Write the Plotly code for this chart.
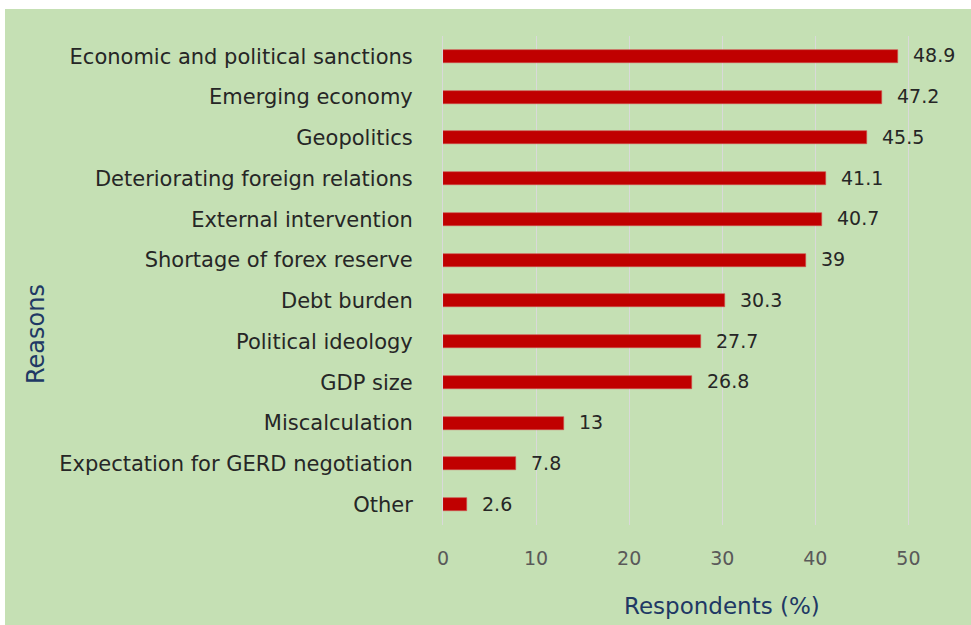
import plotly.graph_objects as go

# Survey results: reasons cited by respondents (share of respondents, %)
reasons = [
    "Economic and political sanctions",
    "Emerging economy",
    "Geopolitics",
    "Deteriorating foreign relations",
    "External intervention",
    "Shortage of forex reserve",
    "Debt burden",
    "Political ideology",
    "GDP size",
    "Miscalculation",
    "Expectation for GERD negotiation",
    "Other",
]
respondents_pct = [48.9, 47.2, 45.5, 41.1, 40.7, 39, 30.3, 27.7, 26.8, 13, 7.8, 2.6]
x_ticks = [0, 10, 20, 30, 40, 50]

W, H = 971, 625
L, R, T, B = 443, 0, 36, 100
plot_w = W - L - R
plot_h = H - T - B
px_per_unit = 9.308
x_max = plot_w / px_per_unit

GREEN = "#C5E0B4"
BAR = "#C00000"
NAVY = "#203864"
FONT = "DejaVu Sans"


def px_to_paper_x(px):
    return (px - L) / plot_w


def px_to_paper_y(py):
    return (H - B - py) / plot_h


fig = go.Figure()
fig.add_trace(
    go.Bar(
        x=respondents_pct,
        y=reasons,
        orientation="h",
        width=0.32,
        marker=dict(color=BAR, line=dict(color="#D24B4B", width=0.6)),
        hoverinfo="skip",
    )
)

# value labels at the end of each bar
for r, v in zip(reasons, respondents_pct):
    fig.add_annotation(
        x=v, y=r, xref="x", yref="y",
        text=f"{v:g}", showarrow=False,
        xanchor="left", xshift=13, yshift=1,
        font=dict(family=FONT, size=19, color="#262626"),
    )

# axis titles
fig.add_annotation(
    x=px_to_paper_x(722), y=px_to_paper_y(606), xref="paper", yref="paper",
    text="Respondents (%)", showarrow=False, xanchor="center", yanchor="middle",
    font=dict(family=FONT, size=23, color=NAVY),
)
fig.add_annotation(
    x=px_to_paper_x(36), y=px_to_paper_y(334), xref="paper", yref="paper",
    text="Reasons", showarrow=False, textangle=-90,
    xanchor="center", yanchor="middle",
    font=dict(family=FONT, size=24, color=NAVY),
)

# chart-area background
fig.add_shape(
    type="rect", xref="paper", yref="paper", layer="below",
    x0=px_to_paper_x(5), x1=px_to_paper_x(W + 2),
    y0=px_to_paper_y(H + 2), y1=px_to_paper_y(9),
    fillcolor=GREEN, line=dict(width=0),
)

fig.update_layout(
    width=W, height=H,
    margin=dict(l=L, r=R, t=T, b=B, autoexpand=False),
    paper_bgcolor="white",
    plot_bgcolor="rgba(0,0,0,0)",
    showlegend=False,
    bargap=0,
    xaxis=dict(
        range=[0, x_max],
        tickvals=x_ticks,
        showgrid=True, gridcolor="#D9D9D9", gridwidth=1,
        zeroline=False, showline=False,
        ticks="", ticklabelstandoff=20,
        tickfont=dict(family=FONT, size=19, color="#595959"),
        fixedrange=True,
    ),
    yaxis=dict(
        categoryorder="array", categoryarray=reasons,
        range=[len(reasons) - 0.5, -0.5],
        showgrid=False, zeroline=False,
        showline=True, linecolor="#D9D9D9", linewidth=1,
        ticks="", ticklabelstandoff=25,
        tickfont=dict(family=FONT, size=21, color="#262626"),
        fixedrange=True,
    ),
)

fig.write_html("out.html")
